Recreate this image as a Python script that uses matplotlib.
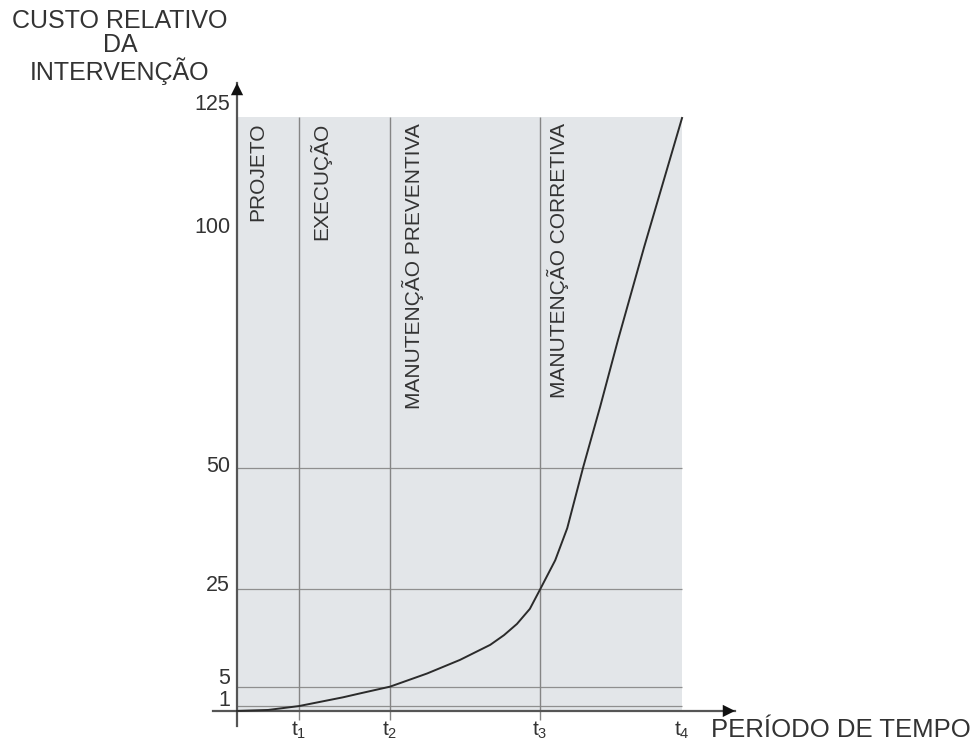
import matplotlib.pyplot as plt

# phases of the building life (x positions of t1..t4, arbitrary time units)
t_pos = [1.39, 3.44, 6.81, 10.0]
t_labels = [r"$\mathregular{t_1}$", r"$\mathregular{t_2}$", r"$\mathregular{t_3}$", r"$\mathregular{t_4}$"]

# y ticks and the horizontal guide lines
y_ticks = [1, 5, 25, 50, 100, 125]
y_guides = [1, 5, 25, 50]

# cost curve
time_x = [0, 0.70, 1.39, 2.38, 2.76, 3.44, 4.27, 5.01, 5.69, 6.00, 6.29, 6.58, 6.81,
          7.15, 7.42, 7.78, 8.16, 8.56, 9.15, 10.0]
cost_y = [0, 0.2, 1.0, 2.8, 3.6, 5.0, 7.7, 10.5, 13.6, 15.6, 17.9, 21.0, 25.0,
          31.0, 37.6, 50.2, 62.6, 76.3, 95.5, 122.0]

# phase names and where they sit
phase_names = ["PROJETO", "EXECUÇÃO", "MANUTENÇÃO PREVENTIVA", "MANUTENÇÃO CORRETIVA"]
phase_x = [0.47, 1.87, 3.96, 7.21]

box_top = 122.2
text_col = "#333333"

plt.rcParams["font.family"] = ["Liberation Sans", "DejaVu Sans"]

fig = plt.figure(figsize=(9.79, 7.42), dpi=100)
ax = fig.add_axes([213 / 979, 16 / 742, 522 / 979, 643 / 742])
ax.set_xlim(-0.54, 11.19)
ax.set_ylim(-3.1, 129.2)

# shaded area
ax.fill_between([0, t_pos[-1]], 0, box_top, color="#e3e6e9", lw=0, zorder=0)

# guide lines
ax.hlines(y_guides, 0, t_pos[-1], color="#8f8f8f", lw=0.9, zorder=1)
ax.vlines(t_pos[:-1], -1.9, box_top, color="#858585", lw=1.0, zorder=1)

# the curve
ax.plot(time_x, cost_y, color="#2b2b2b", lw=1.4, solid_joinstyle="round", zorder=3)

# phase labels
for name, px in zip(phase_names, phase_x):
    ax.text(px, 121.0, name, rotation=90, ha="center", va="top",
            fontsize=15, color=text_col, zorder=4)

# axes through origin with arrows
for side in ["top", "right"]:
    ax.spines[side].set_visible(False)
ax.spines["left"].set_position(("data", 0))
ax.spines["bottom"].set_position(("data", 0))
for side in ["left", "bottom"]:
    ax.spines[side].set_color("#555555")
    ax.spines[side].set_linewidth(1.6)

ax.annotate("", xy=(0, 1), xytext=(0, 0.97), xycoords=ax.get_xaxis_transform(),
            arrowprops=dict(arrowstyle="-|>", color="#111111", lw=0, mutation_scale=22,
                            shrinkA=0, shrinkB=0))
ax.annotate("", xy=(1, 0), xytext=(0.97, 0), xycoords=ax.get_yaxis_transform(),
            arrowprops=dict(arrowstyle="-|>", color="#111111", lw=0, mutation_scale=22,
                            shrinkA=0, shrinkB=0))

# y tick labels, nudged a little like in the original so 1 and 5 don't collide
ax.set_yticks(y_ticks)
ax.tick_params(axis="y", length=0, labelleft=False)
nudge = {1: 4, 5: 6, 25: 3, 50: 1, 100: -2, 125: -1}
for v in y_ticks:
    ax.annotate(str(v), xy=(0, v), xycoords="data", xytext=(-5, nudge[v]),
                textcoords="offset points", ha="right", va="center",
                fontsize=15.5, color=text_col, annotation_clip=False)

ax.set_xticks(t_pos)
ax.set_xticklabels(t_labels)
ax.tick_params(axis="x", length=0, pad=6, labelsize=15, labelcolor=text_col)

# axis titles
fig.text(120 / 979, 1 - 9 / 742, "CUSTO RELATIVO\nDA\nINTERVENÇÃO", ha="center", va="top",
         fontsize=18, color=text_col, linespacing=1.0)
fig.text(711 / 979, 1 - 730 / 742, "PERÍODO DE TEMPO", ha="left", va="center",
         fontsize=18.5, color=text_col)

plt.savefig("out.png", dpi=100)
